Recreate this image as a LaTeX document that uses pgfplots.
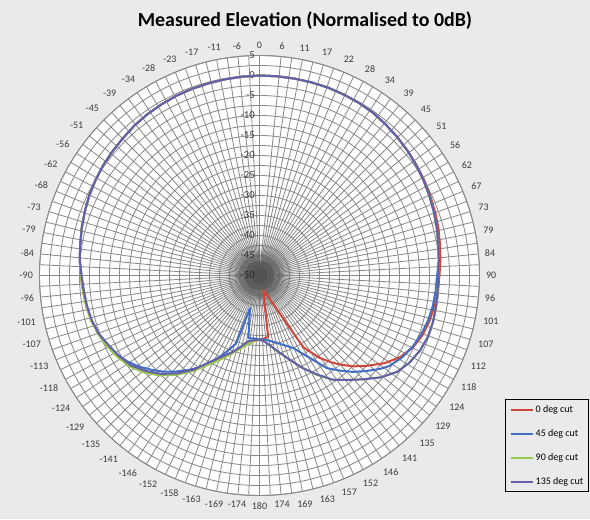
\documentclass[border=0pt]{standalone}
\usepackage{fontspec}
\setmainfont{Carlito}
\usepackage{pgfplots}
\usepackage{pgfplotstable}
\pgfplotsset{compat=1.18}
\usepgfplotslibrary{polar}
\definecolor{bg}{RGB}{234,234,234}
\definecolor{gridgray}{RGB}{138,138,138}
\definecolor{labgray}{RGB}{60,60,60}
\definecolor{cRed}{RGB}{205,70,58}
\definecolor{cBlue}{RGB}{66,110,195}
\definecolor{cGreen}{RGB}{150,200,80}
\definecolor{cPurple}{RGB}{100,95,170}

\pgfplotstableread{
a v
-180 -34.0
-175 -33.5
-170 -32.6
-165 -31.2
-161 -29.6
-155 -26.9
-150 -24.3
-145 -20.9
-140 -17.7
-135 -14.8
-130 -12.4
-125 -10.5
-120 -9.2
-115 -8.1
-110 -7.2
-105 -6.5
-100 -6.0
-95 -5.7
-90 -5.3
-85 -4.9
-80 -4.5
-75 -4.0
-70 -3.5
-65 -3.0
-60 -2.6
-55 -2.2
-50 -1.9
-45 -1.6
-40 -1.2
-35 -0.9
-30 -0.7
-25 -0.5
-20 -0.4
-15 -0.3
-10 -0.2
-5 -0.1
0 0
5 0
10 0
15 0
20 0
25 -0.1
30 -0.2
35 -0.4
40 -0.8
45 -1.2
50 -1.6
55 -2.0
60 -2.4
65 -2.9
70 -3.3
75 -3.7
80 -4.2
85 -4.6
90 -5.0
95 -5.3
100 -5.6
105 -6.0
110 -6.6
115 -7.6
120 -9.3
125 -11.8
130 -14.9
134 -17.3
137 -19.4
140 -21.5
144 -24.6
148.6 -29.0
165.3 -46.3
172 -34.5
176 -34.2
180 -34.0
}\tRed

\pgfplotstableread{
a v
-180 -34.0
-175 -34.2
-170 -34.1
-163.7 -41.5
-161 -32.0
-158 -30.2
-154 -27.4
-150 -24.6
-147 -22.7
-143 -20.4
-139 -18.2
-135 -16.0
-131 -14.1
-127 -12.2
-123 -10.6
-119 -9.3
-115 -8.2
-110 -7.2
-105 -6.5
-100 -6.2
-95 -5.9
-90 -5.5
-85 -4.9
-80 -4.5
-75 -4.0
-70 -3.5
-65 -3.0
-60 -2.6
-55 -2.2
-50 -1.9
-45 -1.6
-40 -1.2
-35 -0.9
-30 -0.7
-25 -0.5
-20 -0.4
-15 -0.3
-10 -0.2
-5 -0.1
0 0
5 0
10 0
15 0
20 0
25 -0.1
30 -0.2
35 -0.4
40 -0.8
45 -1.2
50 -1.6
55 -2.1
60 -2.6
65 -3.1
70 -3.6
75 -4.1
80 -4.6
85 -5.0
90 -5.6
95 -5.8
100 -6.0
105 -6.4
110 -7.0
115 -7.8
120 -8.9
125 -10.5
128 -12.0
132 -14.3
136 -16.5
140 -19.0
144 -21.4
148.5 -25.8
152 -28.2
155 -30.0
160 -31.4
165 -32.5
168.5 -33.1
172 -33.6
176 -34.0
180 -34.0
}\tBlue

\pgfplotstableread{
a v
-180 -34.0
-175 -33.5
-170 -32.5
-165 -31.0
-161 -29.5
-155 -26.8
-150 -24.2
-145 -20.8
-140 -17.6
-135 -14.7
-130 -12.3
-125 -10.4
-120 -9.1
-115 -8.0
-110 -7.1
-105 -6.4
-100 -6.0
-95 -5.7
-90 -5.3
-85 -4.9
-80 -4.5
-75 -4.0
-70 -3.5
-65 -3.0
-60 -2.6
-55 -2.2
-50 -1.9
-45 -1.6
-40 -1.2
-35 -0.9
-30 -0.7
-25 -0.5
-20 -0.4
-15 -0.3
-10 -0.2
-5 -0.1
0 0
5 0
10 0
15 0
20 0
25 -0.1
30 -0.2
35 -0.4
40 -0.8
45 -1.2
50 -1.6
55 -2.1
60 -2.6
65 -3.1
70 -3.6
75 -4.1
80 -4.6
85 -5.0
90 -5.3
95 -5.3
100 -5.2
105 -5.1
110 -5.2
115 -5.7
120 -6.6
125 -8.0
130 -10.4
135 -13.3
140 -15.9
145 -18.2
150 -21.3
155 -24.5
160 -27.5
165 -29.9
170 -31.8
175 -33.3
180 -34.0
}\tGreen

\pgfplotstableread{
a v
-180 -34.0
-175 -33.8
-170 -33.3
-165 -31.5
-160 -29.5
-155 -27.6
-150 -25.0
-145 -21.3
-140 -18.1
-135 -15.2
-130 -12.9
-125 -10.8
-120 -9.6
-115 -8.5
-110 -7.3
-105 -6.6
-100 -6.2
-95 -5.9
-90 -5.5
-85 -4.9
-80 -4.5
-75 -4.0
-70 -3.5
-65 -3.0
-60 -2.6
-55 -2.2
-50 -1.9
-45 -1.6
-40 -1.2
-35 -0.9
-30 -0.7
-25 -0.5
-20 -0.4
-15 -0.3
-10 -0.2
-5 -0.1
0 0
5 0
10 0
15 0
20 0
25 -0.1
30 -0.2
35 -0.4
40 -0.8
45 -1.2
50 -1.6
55 -2.1
60 -2.6
65 -3.1
70 -3.6
75 -4.1
80 -4.6
85 -5.0
90 -5.3
95 -5.3
100 -5.2
105 -5.1
110 -5.2
115 -5.7
120 -6.6
125 -8.0
130 -10.4
135 -13.3
140 -15.9
145 -18.2
150 -21.5
155 -24.5
160 -27.5
165 -29.9
170 -31.8
175 -33.3
180 -34.0
}\tPurple

\begin{document}
\begin{tikzpicture}
\fill[bg] (-194.625pt,-182.625pt) rectangle ++(442.5pt,389.25pt);
\begin{polaraxis}[
  at={(0pt,0pt)}, anchor=center,
  width=330pt, height=330pt, scale only axis,
  xmin=90, xmax=450,
  ymin=0, ymax=55,
  xtick={90,95.625,...,444.4},
  xticklabels={0,-6,-11,-17,-23,-28,-34,-39,-45,-51,-56,-62,-68,-73,-79,-84,-90,-96,-101,-107,-113,-118,-124,-129,-135,-141,-146,-152,-158,-163,-169,-174,180,174,169,163,157,152,146,141,135,129,124,118,112,107,101,96,90,84,79,73,67,62,56,51,45,39,34,28,22,17,11,6},
  minor x tick num=1,
  ytick={0,5,...,55},
  yticklabels={-50,-45,-40,-35,-30,-25,-20,-15,-10,-5,0,5},
  minor y tick num=1,
  grid=both,
  major grid style={draw=gridgray, line width=0.62pt},
  minor grid style={draw=gridgray, line width=0.62pt},
  axis line style={draw=gridgray, line width=0.7pt},
  axis background/.style={fill=white},
  tick style={draw=none},
  xticklabel style={font=\fontsize{7.5}{8}\selectfont, text=labgray, inner sep=4.8pt},
  yticklabel style={font=\fontsize{8}{9}\selectfont, text=labgray, fill=none},
  legend style={at={(axis description cs:1.058,0.219)}, anchor=north west, draw=black, line width=0.8pt, fill=bg, font=\fontsize{7.5}{9}\selectfont, inner sep=3pt, row sep=9pt, nodes={inner sep=1pt, text height=5.5pt, text depth=1.5pt}},
  legend cell align=left,
  legend image code/.code={\draw[#1, line width=1.6pt] (0pt,0pt) -- (17pt,0pt);},
  every axis plot/.append style={line width=1.5pt, line join=round},
]
\fill[black, opacity=0.07] (axis cs:0,0) circle[radius=24pt];
\fill[black, opacity=0.09] (axis cs:0,0) circle[radius=19pt];
\fill[black, opacity=0.11] (axis cs:0,0) circle[radius=15pt];
\fill[black, opacity=0.11] (axis cs:0,0) circle[radius=11pt];
\fill[black, opacity=0.08] (axis cs:0,0) circle[radius=6pt];
\addplot[cRed, no marks] table[x expr={\thisrow{a}<=0 ? 90-\thisrow{a} : 450-\thisrow{a}}, y expr=\thisrow{v}+50] {\tRed};
\addlegendentry{0 deg cut}
\addplot[cBlue, no marks] table[x expr={\thisrow{a}<=0 ? 90-\thisrow{a} : 450-\thisrow{a}}, y expr=\thisrow{v}+50] {\tBlue};
\addlegendentry{45 deg cut}
\addplot[cGreen, no marks] table[x expr={\thisrow{a}<=0 ? 90-\thisrow{a} : 450-\thisrow{a}}, y expr=\thisrow{v}+50] {\tGreen};
\addlegendentry{90 deg cut}
\addplot[cPurple, no marks] table[x expr={\thisrow{a}<=0 ? 90-\thisrow{a} : 450-\thisrow{a}}, y expr=\thisrow{v}+50] {\tPurple};
\addlegendentry{135 deg cut}
\end{polaraxis}
\node[font=\fontsize{14.9}{16}\selectfont\bfseries, text=black] at (34.1pt,190.9pt) {Measured Elevation (Normalised to 0dB)};
\end{tikzpicture}
\end{document}
